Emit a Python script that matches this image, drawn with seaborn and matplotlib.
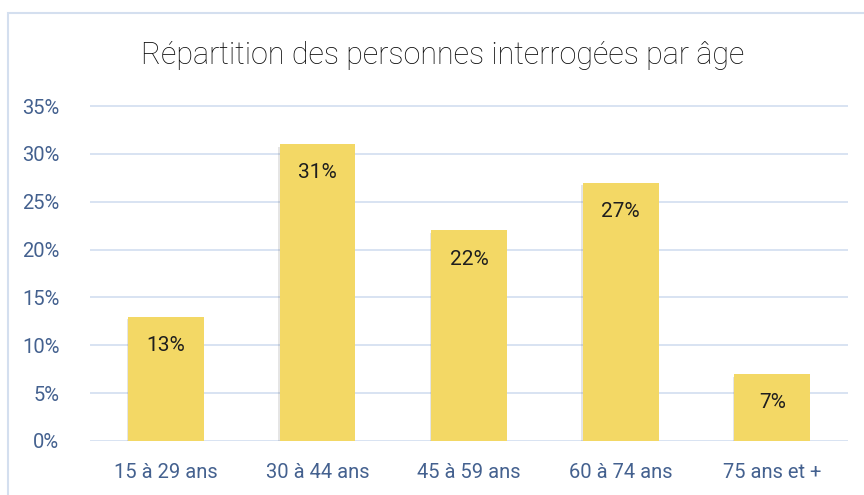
import matplotlib
matplotlib.use("Agg")
import matplotlib.pyplot as plt
import matplotlib.patheffects as pe
from matplotlib.patches import Rectangle
from matplotlib.ticker import FuncFormatter
import seaborn as sns
import pandas as pd

# data
categories = ["15 à 29 ans", "30 à 44 ans", "45 à 59 ans", "60 à 74 ans", "75 ans et +"]
shares = [13, 31, 22, 27, 7]

df = pd.DataFrame({"age": categories, "pct": shares})

sns.set_style("white")
plt.rcParams["font.family"] = ["Roboto", "DejaVu Sans"]

bar_color = "#F3D865"
tick_color = "#44618F"
grid_color = "#D6E1F1"

fig = plt.figure(figsize=(8.64, 4.95), dpi=100)
ax = fig.add_axes([90 / 864, 1 - 441 / 495, 758 / 864, 335 / 495 * (36 / 35)])

sns.barplot(data=df, x="age", y="pct", color=bar_color, width=0.5, saturation=1, ax=ax, zorder=3)
for p in ax.patches:
    p.set_linewidth(0)
    p.set_path_effects([pe.SimplePatchShadow(offset=(-1, -2), alpha=0.15, shadow_rgbFace="#555555"), pe.Normal()])

for i, v in enumerate(shares):
    ax.text(i, v - 3.0, f"{v}%", ha="center", va="center", fontsize=15,
            color="#1e1e1e", zorder=4)

ax.set_ylim(0, 36)
ax.set_xlim(-0.5, len(categories) - 0.5)
ax.set_yticks(range(0, 40, 5))
ax.yaxis.set_major_formatter(FuncFormatter(lambda v, _: f"{int(v)}%"))
ax.grid(axis="y", color=grid_color, linewidth=1.3, zorder=0)
ax.set_axisbelow(True)
for s in ax.spines.values():
    s.set_visible(False)
ax.tick_params(axis="both", length=0, labelsize=14.5, labelcolor=tick_color)
ax.tick_params(axis="y", pad=22)
ax.tick_params(axis="x", pad=16)
ax.set_xlabel("")
ax.set_ylabel("")

fig.text(443 / 864, 1 - 55 / 495, "Répartition des personnes interrogées par âge",
         ha="center", va="center", fontsize=22, color="#0d0d0d", fontweight="light")

# chart frame (only left and top edges visible)
fig.patches.append(Rectangle((8 / 864, -0.1), 1.2, 1 - 13 / 495 + 0.1, transform=fig.transFigure,
                             fill=False, edgecolor="#D4DFEF", linewidth=1.5, zorder=0))

fig.savefig("out.png", dpi=100)
